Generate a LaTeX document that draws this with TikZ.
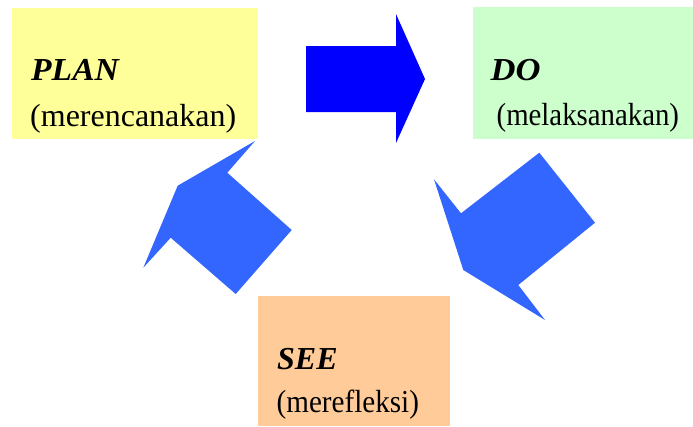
\documentclass[tikz,border=0pt]{standalone}
\usepackage{fontspec}
\setmainfont{Liberation Serif}
\definecolor{planyellow}{HTML}{FFFF99}
\definecolor{dogreen}{HTML}{CCFFCC}
\definecolor{seeorange}{HTML}{FFCC99}
\definecolor{pureblue}{HTML}{0000FF}
\definecolor{cycleblue}{HTML}{3366FF}
\newcommand{\hsq}[2]{\scalebox{#1}[1]{#2}}
\begin{document}
\begin{tikzpicture}[x=1pt,y=-1pt,
  title/.style={anchor=base west,inner sep=0pt,font=\fontsize{32}{36}\selectfont\bfseries\itshape},
  sub/.style={anchor=base west,inner sep=0pt,font=\fontsize{32}{36}\selectfont},
  bigarrow/.style={fill=pureblue,draw=none},
  cyclearrow/.style={fill=cycleblue,draw=none}]
\useasboundingbox (0,0) rectangle (693,426);
% boxes
\fill[planyellow] (12,8) rectangle (258,139);
\coordinate (planbox) at (135,73);
\fill[dogreen] (473,7) rectangle (693,139);
\coordinate (dobox) at (583,73);
\fill[seeorange] (258,296) rectangle (450,426);
\coordinate (seebox) at (354,361);
% texts
\node[title] (plant) at (31,80.7) {\hsq{1.05}{PLAN}};
\node[sub] (plans) at (30,126) {(merencanakan)};
\node[title] (dot) at (490.5,80.7) {\hsq{1.08}{DO}};
\node[sub] (dos) at (496.5,125) {\hsq{0.9}{(melaksanakan)}};
\node[title] (seet) at (277,369) {SEE};
\node[sub] (sees) at (276.5,412) {\hsq{0.91}{(merefleksi)}};
% arrow PLAN -> DO
\fill[bigarrow] (306,46) -- (396,46) -- (396,14) -- (425,79) -- (396,143) -- (396,112) -- (306,112) -- cycle;
% arrow DO -> SEE
\fill[cyclearrow] (539.3,152.7) -- (595,222.7) -- (518.3,285) -- (545,320) -- (463.3,270) -- (434,179.3) -- (461,213.3) -- cycle;
% arrow SEE -> PLAN
\fill[cyclearrow] (255,141) -- (177.7,185.7) -- (143.3,267.7) -- (170.7,237.7) -- (235.7,294) -- (291.7,230) -- (227.3,172.7) -- cycle;
\end{tikzpicture}
\end{document}
